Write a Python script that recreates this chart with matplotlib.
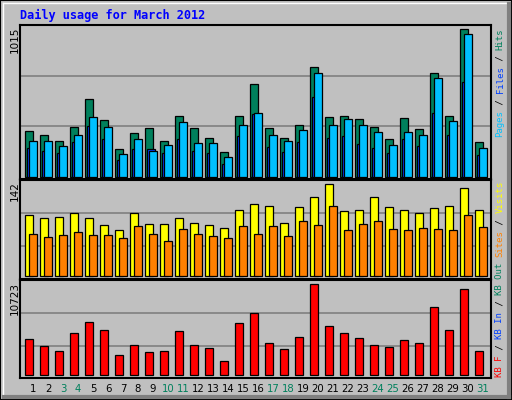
import matplotlib
matplotlib.use("Agg")
import matplotlib.pyplot as plt
from matplotlib.patches import Rectangle
from matplotlib.lines import Line2D

days = list(range(1, 32))
hits = [313,285,244,340,533,388,189,299,333,244,420,333,264,168,420,636,333,264,353,753,409,420,395,340,257,402,326,712,420,1015,237]
pages = [244,244,209,285,409,340,154,258,175,216,375,230,230,134,354,437,285,244,320,712,354,395,354,306,216,306,285,678,381,981,196]
files = [196,175,161,237,347,258,113,189,189,161,258,175,161,85,278,430,202,168,237,547,264,278,223,196,161,258,209,437,285,650,147]
visits = [94,90,91,97,90,79,71,97,80,80,90,82,79,74,103,111,108,83,107,123,142,100,103,122,107,102,97,105,108,137,103]
sites = [66,60,63,69,63,63,59,77,66,54,73,66,62,59,77,65,77,62,85,79,108,71,80,86,73,71,74,73,71,94,76]
kbytes = [4242,3417,2828,4949,6245,5303,2357,3535,2710,2828,5185,3535,3182,1650,6128,7306,3771,3064,4478,10723,5774,4949,4360,3535,3300,4124,3771,8013,5303,10134,2828]
weekend = [3,4,10,11,17,18,24,25,31]
title = "Daily usage for March 2012"

W, H = 512, 400
BG = "#C0C0C0"
fig = plt.figure(figsize=(W/100, H/100), dpi=100, facecolor=BG)

def fx(px): return px / W
def fy(py): return 1 - py / H

# outer frame
fig.patches.append(Rectangle((0, 0), 1, 1, transform=fig.transFigure, fill=False, ec="black", lw=1.5))
fig.add_artist(Line2D([fx(3), fx(3)], [fy(396), fy(3)], color="white", lw=1))
fig.add_artist(Line2D([fx(3), fx(508)], [fy(3), fy(3)], color="white", lw=1))
fig.add_artist(Line2D([fx(508.5), fx(508.5)], [fy(397), fy(4)], color="#808080", lw=3))
fig.add_artist(Line2D([fx(4), fx(509)], [fy(396.5), fy(396.5)], color="#808080", lw=3))

x0, x1 = 20, 490.7
xl = (1 - 11/15, 1 + 459.7/15)

def mkax(ytop, ybot, ylim, grids):
    ax = fig.add_axes([fx(x0), fy(ybot), fx(x1) - fx(x0), (ybot - ytop)/H])
    ax.set_facecolor(BG)
    ax.set_xlim(*xl); ax.set_ylim(*ylim)
    ax.set_xticks([]); ax.set_yticks([])
    for s in ax.spines.values():
        s.set_linewidth(1.5); s.set_color("black")
    for g in grids:
        ax.axhline(g, color="#808080", lw=1.2, zorder=0)
    return ax

w = 0.49
ax1 = mkax(25, 179, (-15.8, 1044.6), [348, 696])
ax1.bar([d - 0.38 for d in days], hits, width=w, align="edge", color="#00805C", ec="black", lw=0.9, zorder=2)
ax1.bar([d - 0.25 for d in days], files, width=w, align="edge", color="#0040FF", ec="black", lw=0.9, zorder=3)
ax1.bar([d - 0.113 for d in days], pages, width=w, align="edge", color="#00C0FF", ec="black", lw=0.9, zorder=4)

ax2 = mkax(180, 279, (-4.2, 148.6), [46.3, 97.2])
ax2.bar([d - 0.38 for d in days], visits, width=0.53, align="edge", color="#FFFF00", ec="black", lw=0.9, zorder=2)
ax2.bar([d - 0.113 for d in days], sites, width=w, align="edge", color="#FF8000", ec="black", lw=0.9, zorder=3)

ax3 = mkax(280.3, 378.3, (-353, 11193), [3417, 7305])
ax3.bar([d - 0.38 for d in days], kbytes, width=w, align="edge", color="#FF0000", ec="black", lw=0.9, zorder=2)

fig.text(fx(20), fy(15), title, family="DejaVu Sans Mono", weight="bold", fontsize=8.6, color="#0000FF", va="center", ha="left")

for txt, ytop in [("1015", 27), ("142", 181), ("10723", 282)]:
    fig.text(fx(15), fy(ytop), txt, rotation=90, ha="center", va="top", fontsize=7.5, color="black", family="DejaVu Sans")

for d in days:
    px = 31 + 15*(d - 1) + 2
    fig.text(fx(px), fy(389), str(d), ha="center", va="center", fontsize=7.3,
             color="#00805C" if d in weekend else "black", family="DejaVu Sans")

def vlabel(parts, ystart):
    step = 5.45
    y = ystart
    for t, c in parts:
        fig.text(fx(500), fy(y), t, rotation=90, ha="center", va="bottom", color=c,
                 family="DejaVu Sans Mono", fontsize=6.5)
        y -= step * len(t)

vlabel([("Pages", "#00C0FF"), (" / ", "black"), ("Files", "#0040FF"), (" / ", "black"), ("Hits", "#00805C")], 137)
vlabel([("KB F", "#FF0000"), (" / ", "black"), ("KB In", "#0040FF"), (" / ", "black"), ("KB Out", "#00805C"),
        (" ", "black"), ("Sites", "#FF8000"), (" / ", "black"), ("Visits", "#FFFF00")], 376.7)

fig.savefig("out.png", dpi=100, facecolor=BG)
